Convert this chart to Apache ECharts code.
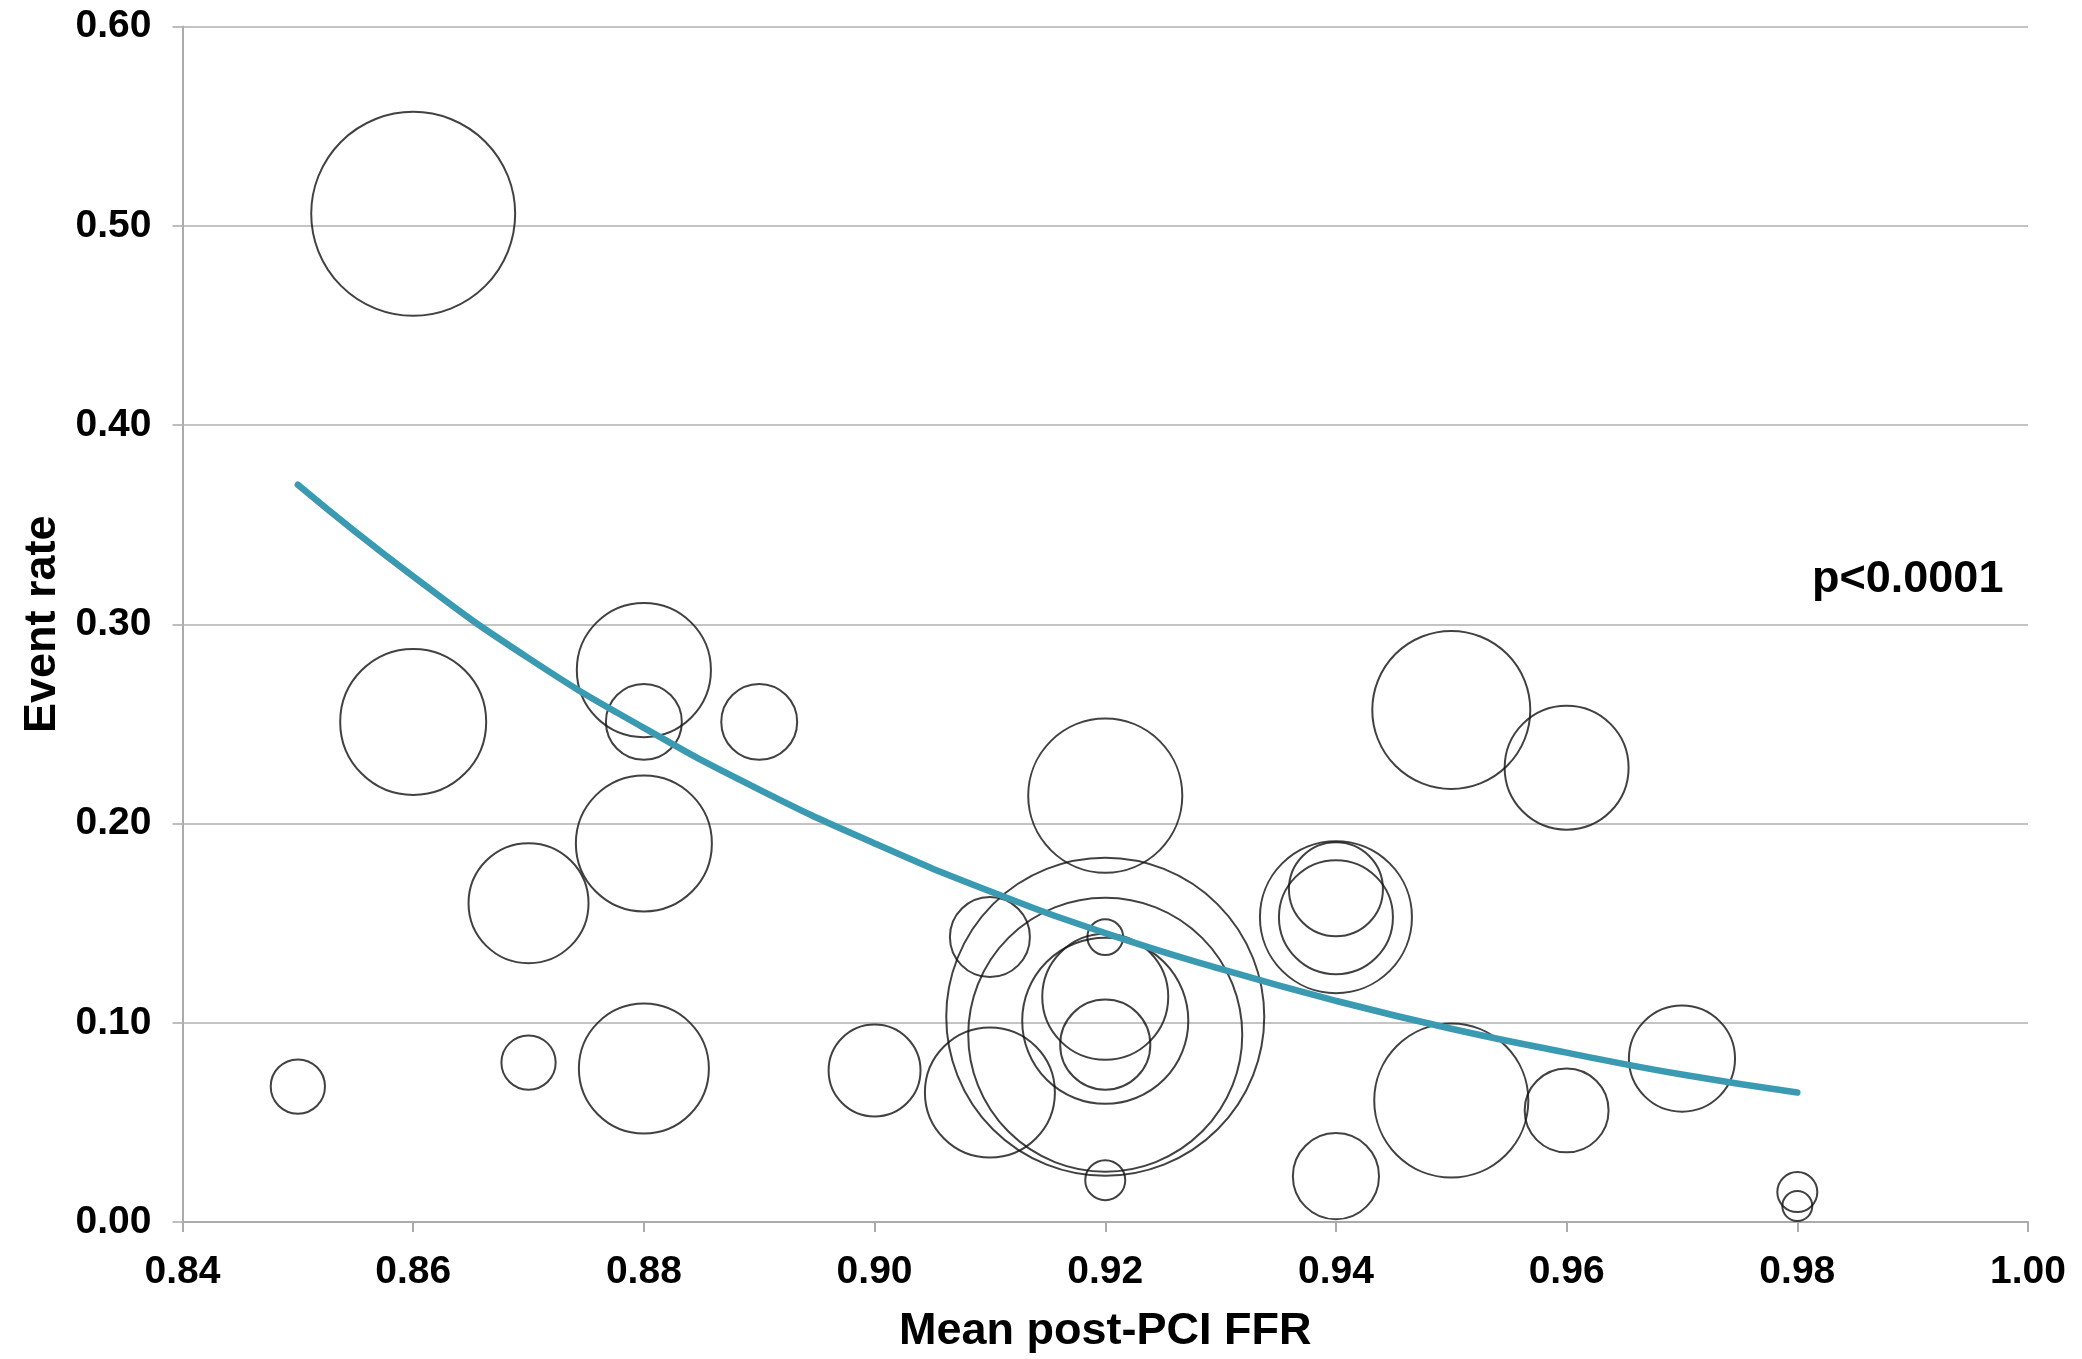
<!DOCTYPE html>
<html>
<head>
<meta charset="utf-8">
<script src="https://cdn.jsdelivr.net/npm/echarts@6/dist/echarts.min.js"></script>
<style>
html,body{margin:0;padding:0;background:#fff;}
#chart{width:2082px;height:1359px;}
</style>
</head>
<body>
<div id="chart"></div>
<script>
// Bubble data: mean post-PCI FFR, event rate, study weight (bubble area)
const ffr = [0.86, 0.85, 0.86, 0.87, 0.87, 0.88, 0.88, 0.88, 0.88, 0.89, 0.90, 0.91, 0.91,
             0.92, 0.92, 0.92, 0.92, 0.92, 0.92, 0.92, 0.92,
             0.94, 0.94, 0.94, 0.94, 0.95, 0.95, 0.96, 0.96, 0.97, 0.98, 0.98];
const eventRate = [0.506, 0.068, 0.251, 0.160, 0.080, 0.277, 0.251, 0.190, 0.077, 0.251, 0.076, 0.143, 0.065,
                   0.214, 0.143, 0.103, 0.094, 0.101, 0.113, 0.089, 0.021,
                   0.167, 0.153, 0.153, 0.023, 0.257, 0.061, 0.228, 0.056, 0.082, 0.015, 0.008];
const weight = [650, 46, 333, 225, 46, 281, 90, 289, 264, 90, 132, 100, 264,
                371, 20, 1580, 1173, 431, 248, 127, 25,
                138, 203, 361, 116, 390, 371, 240, 110, 176, 25, 14];

// Trend line
const trendX = [0.85, 0.86, 0.87, 0.88, 0.89, 0.90, 0.91, 0.92, 0.93, 0.94, 0.95, 0.96, 0.97, 0.98];
const trendY = [0.370, 0.324, 0.283, 0.248, 0.217, 0.190, 0.166, 0.145, 0.127, 0.111, 0.097, 0.085, 0.074, 0.065];

const xTicks = ['0.84','0.86','0.88','0.90','0.92','0.94','0.96','0.98','1.00'];
const yTicks = ['0.00','0.10','0.20','0.30','0.40','0.50','0.60'];

const FONT = '"Liberation Sans", Arial, Helvetica, sans-serif';

const bubbles = ffr.map((x, i) => [x, eventRate[i], weight[i]]);
const trend = trendX.map((x, i) => [x, trendY[i]]);

const chart = echarts.init(document.getElementById('chart'), null, {renderer: 'canvas'});
chart.setOption({
  backgroundColor: '#ffffff',
  animation: false,
  grid: {left: 182.5, right: 54, top: 26.5, bottom: 136.6, containLabel: false},
  xAxis: {
    type: 'value', min: 0.84, max: 1.00, interval: 0.02,
    name: 'Mean post-PCI FFR', nameLocation: 'middle', nameGap: 87,
    nameTextStyle: {fontFamily: FONT, fontWeight: 'bold', fontSize: 45, color: '#000'},
    axisLine: {show: true, onZero: false, lineStyle: {color: '#ababab', width: 2}},
    axisTick: {show: true, inside: false, length: 10, lineStyle: {color: '#ababab', width: 2}},
    splitLine: {show: false},
    axisLabel: {
      margin: 31, fontFamily: FONT, fontWeight: 'bold', fontSize: 39, color: '#000',
      formatter: v => xTicks[Math.round((v - 0.84) / 0.02)]
    }
  },
  yAxis: {
    type: 'value', min: 0, max: 0.6, interval: 0.1,
    name: 'Event rate', nameLocation: 'middle', nameGap: 117,
    nameTextStyle: {fontFamily: FONT, fontWeight: 'bold', fontSize: 45, color: '#000'},
    axisLine: {show: true, lineStyle: {color: '#ababab', width: 2}},
    axisTick: {show: true, inside: false, length: 10, lineStyle: {color: '#bdbdbd', width: 2}},
    splitLine: {show: true, lineStyle: {color: '#c4c4c4', width: 2}},
    axisLabel: {
      margin: 31, fontFamily: FONT, fontWeight: 'bold', fontSize: 39, color: '#000',
      formatter: v => yTicks[Math.round(v / 0.1)]
    }
  },
  series: [
    {
      type: 'scatter',
      data: bubbles,
      symbol: 'circle',
      symbolSize: d => 8 * Math.sqrt(d[2]),
      itemStyle: {color: 'rgba(0,0,0,0)', borderColor: '#111', borderWidth: 2},
      z: 2
    },
    {
      type: 'line',
      data: trend,
      smooth: true,
      showSymbol: false,
      symbol: 'none',
      lineStyle: {color: '#3a9ab2', width: 6.5, cap: 'round'},
      z: 3
    }
  ],
  graphic: [{
    type: 'text', left: 1812, top: 557,
    style: {text: 'p<0.0001', fontFamily: FONT, fontWeight: 'bold', fontSize: 45, fill: '#000'}
  }]
});
</script>
</body>
</html>
